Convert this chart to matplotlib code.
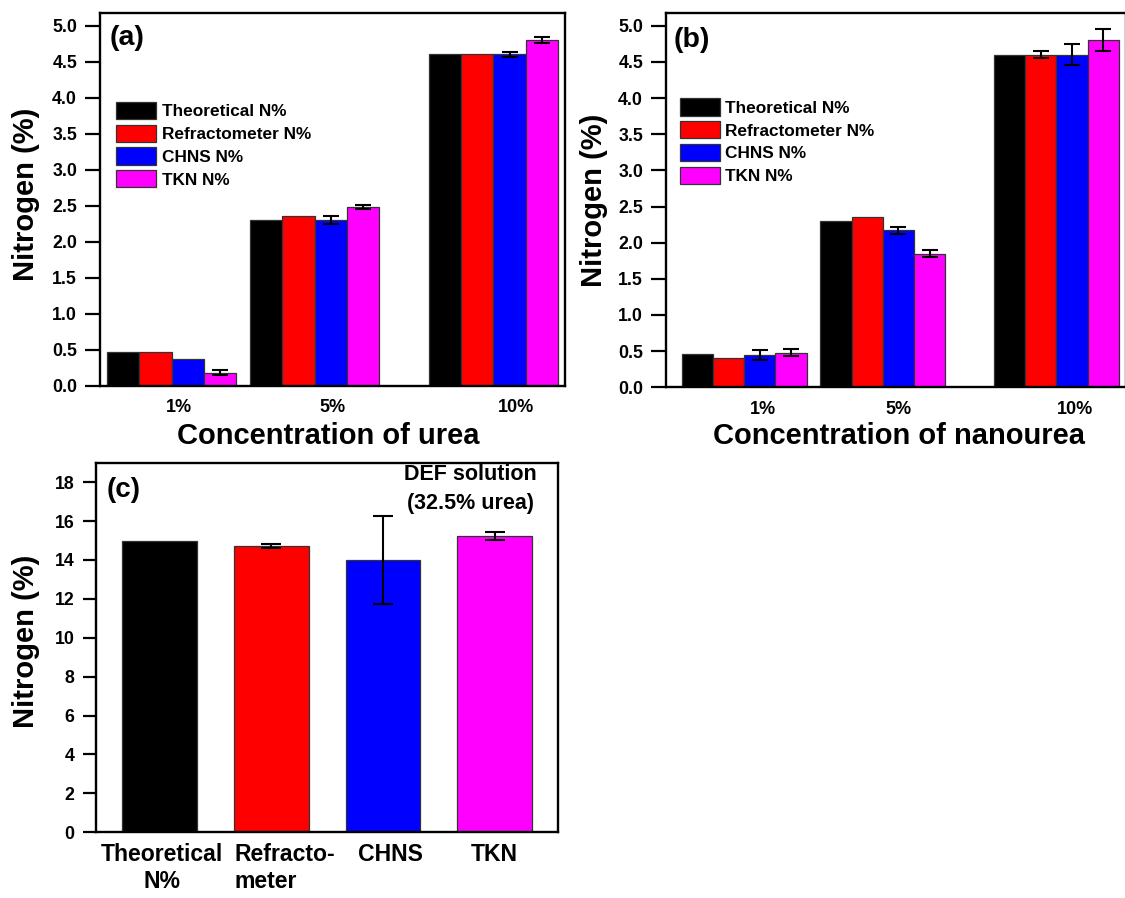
import numpy as np
import matplotlib
matplotlib.use("Agg")
import matplotlib.pyplot as plt
from matplotlib.ticker import FormatStrFormatter, MultipleLocator

plt.rcParams['font.family'] = ['Liberation Sans', 'DejaVu Sans']
plt.rcParams['font.weight'] = 'bold'

# ---------------- data ----------------
series = ['Theoretical N%', 'Refractometer N%', 'CHNS N%', 'TKN N%']
colors = ['#000000', '#ff0000', '#0000ff', '#ff00ff']

conc_labels = ['1%', '5%', '10%']
conc_pos = [1, 5, 10]

# (a) urea
urea_theo = [0.46, 2.30, 4.60]
urea_refr = [0.46, 2.35, 4.60]
urea_chns = [0.37, 2.30, 4.60]
urea_tkn = [0.18, 2.48, 4.80]
urea_theo_err = [0, 0, 0]
urea_refr_err = [0, 0, 0]
urea_chns_err = [0, 0.06, 0.035]
urea_tkn_err = [0.04, 0.03, 0.04]

# (b) nanourea
nano_theo = [0.46, 2.30, 4.60]
nano_refr = [0.41, 2.35, 4.60]
nano_chns = [0.45, 2.17, 4.60]
nano_tkn = [0.48, 1.85, 4.80]
nano_theo_err = [0, 0, 0]
nano_refr_err = [0, 0, 0.05]
nano_chns_err = [0.07, 0.05, 0.15]
nano_tkn_err = [0.05, 0.045, 0.155]

# (c) DEF solution
def_methods = ['Theoretical\nN%', 'Refracto-\nmeter', 'CHNS', 'TKN']
def_vals = [14.95, 14.72, 14.0, 15.25]
def_err = [0, 0.11, 2.25, 0.2]

# ---------------- figure ----------------
W, H = 1125, 898
fig = plt.figure(figsize=(W / 100, H / 100), dpi=100, facecolor='white')


def frac(l, r, t, b):
    return [l / W, (H - b) / H, (r - l) / W, (b - t) / H]


ax_a = fig.add_axes(frac(100, 565, 12.7, 385.5))
ax_b = fig.add_axes(frac(666, 1125.7, 12.7, 387.3))
ax_c = fig.add_axes(frac(96, 558.3, 462.7, 832.3))

SP_LW = 1.7
YTICK_FS = 12.8


def style_axes(ax, tick_len, ypad, xpad):
    for s in ax.spines.values():
        s.set_linewidth(SP_LW)
    ax.tick_params(axis='y', which='major', direction='out', length=tick_len,
                   width=1.6, pad=ypad, labelsize=YTICK_FS, right=False, left=True)
    ax.tick_params(axis='x', which='major', length=0, pad=xpad)
    for lab in ax.get_yticklabels() + ax.get_xticklabels():
        lab.set_fontweight('bold')


def grouped(ax, vals_list, errs_list, tick_pos, capsize):
    x = np.array(conc_pos, dtype=float)
    w = 0.9
    offs = (np.arange(4) - 1.5) * w
    for i, (vals, errs) in enumerate(zip(vals_list, errs_list)):
        ax.bar(x + offs[i], vals, width=w, color=colors[i],
               edgecolor='#333333', linewidth=0.9, label=series[i], zorder=2)
        e = np.array(errs, dtype=float)
        m = e > 0
        if m.any():
            ax.errorbar((x + offs[i])[m], np.array(vals)[m], yerr=e[m], fmt='none',
                        ecolor='black', elinewidth=1.5, capsize=capsize,
                        capthick=1.5, zorder=3)
    ax.set_ylim(0, 5.18)
    ax.yaxis.set_major_locator(MultipleLocator(0.5))
    ax.yaxis.set_major_formatter(FormatStrFormatter('%.1f'))
    ax.set_xticks(tick_pos)
    ax.set_xticklabels(conc_labels, fontsize=13, fontweight='bold')


LEG_KW = dict(loc='upper left', frameon=False, borderpad=0, borderaxespad=0,
              handlelength=2.32, handleheight=1.16, labelspacing=0.31,
              handletextpad=0.3, prop={'size': 12.4, 'weight': 'bold'})

# (a)
grouped(ax_a, [urea_theo, urea_refr, urea_chns, urea_tkn],
        [urea_theo_err, urea_refr_err, urea_chns_err, urea_tkn_err],
        [1.2, 5.5, 10.64], 5.5)
ax_a.set_xlim(-1, 12)
style_axes(ax_a, 10.5, 6, 10)
ax_a.legend(bbox_to_anchor=(0.0353, 0.761), **LEG_KW)
ax_a.text(0.021, 0.913, '(a)', transform=ax_a.transAxes, fontsize=20.5,
          fontweight='bold', ha='left', va='baseline')

# (b)
grouped(ax_b, [nano_theo, nano_refr, nano_chns, nano_tkn],
        [nano_theo_err, nano_refr_err, nano_chns_err, nano_tkn_err],
        [1.55, 5.46, 10.54], 5.5)
ax_b.set_xlim(-1.25, 12)
style_axes(ax_b, 10.5, 6, 10)
ax_b.legend(bbox_to_anchor=(0.0305, 0.771), **LEG_KW)
ax_b.text(0.016, 0.909, '(b)', transform=ax_b.transAxes, fontsize=20.5,
          fontweight='bold', ha='left', va='baseline')

# (c)
xc = np.arange(len(def_vals))
ax_c.bar(xc, def_vals, width=0.67, color=colors, edgecolor='#333333',
         linewidth=0.9, zorder=2)
ec = np.array(def_err, dtype=float)
mc = ec > 0
ax_c.errorbar(xc[mc], np.array(def_vals)[mc], yerr=ec[mc], fmt='none', ecolor='black',
              elinewidth=1.5, capsize=7, capthick=1.5, zorder=3)
ax_c.set_xlim(-0.57, 3.57)
ax_c.set_ylim(0, 19)
ax_c.yaxis.set_major_locator(MultipleLocator(2))
ax_c.set_xticks([0.02, 1.12, 2.07, 3.0])
ax_c.set_xticklabels(def_methods, fontsize=16.6, fontweight='bold')
for lab in ax_c.get_xticklabels():
    lab.set_multialignment('center')
ax_c.get_xticklabels()[1].set_multialignment('left')
style_axes(ax_c, 9.6, 6, 8)
ax_c.text(0.023, 0.908, '(c)', transform=ax_c.transAxes, fontsize=20,
          fontweight='bold', ha='left', va='baseline')
ax_c.text(0.81, 0.952, 'DEF solution', transform=ax_c.transAxes, fontsize=15.5,
          fontweight='bold', ha='center', va='baseline')
ax_c.text(0.81, 0.875, '(32.5% urea)', transform=ax_c.transAxes, fontsize=15.5,
          fontweight='bold', ha='center', va='baseline')

# axis titles
TITLE_FS = 21
fig.text(26 / W, (H - 194.2) / H, 'Nitrogen (%)', rotation=90, fontsize=TITLE_FS,
         fontweight='bold', ha='center', va='center')
fig.text(594 / W, (H - 200) / H, 'Nitrogen (%)', rotation=90, fontsize=TITLE_FS,
         fontweight='bold', ha='center', va='center')
fig.text(26 / W, (H - 641.7) / H, 'Nitrogen (%)', rotation=90, fontsize=TITLE_FS,
         fontweight='bold', ha='center', va='center')
fig.text(328.3 / W, (H - 444) / H, 'Concentration of urea', fontsize=TITLE_FS,
         fontweight='bold', ha='center', va='baseline')
fig.text(899 / W, (H - 444) / H, 'Concentration of nanourea', fontsize=TITLE_FS,
         fontweight='bold', ha='center', va='baseline')

fig.savefig('out.png', dpi=100, facecolor='white')
